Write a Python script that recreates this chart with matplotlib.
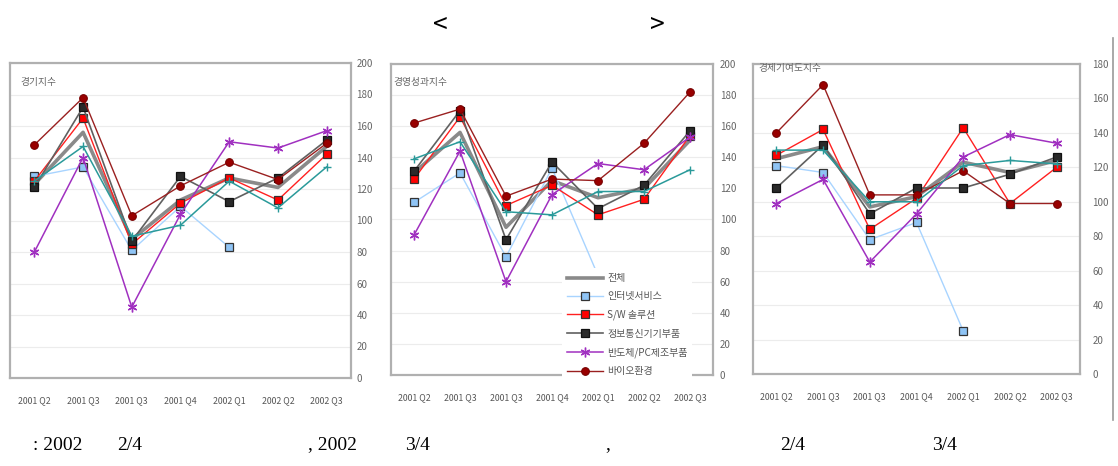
import matplotlib
matplotlib.use('Agg')
import matplotlib.pyplot as plt
import numpy as np
from matplotlib.lines import Line2D

plt.rcParams['font.family'] = ['Noto Sans CJK KR', 'DejaVu Sans']

# DATA

quarters = ['2001 Q2', '2001 Q3', '2001 Q3', '2001 Q4', '2002 Q1', '2002 Q2', '2002 Q3']
series_names = ['전체', '인터넷서비스', 'S/W 솔루션', '정보통신기기부품', '반도체/PC제조부품', '바이오환경', '기타']
nan = np.nan

# 경기지수
p1_total    = [123, 156, 88, 113, 127, 121, 147]
p1_internet = [128, 134, 81, 109, 83, nan, nan]
p1_sw       = [125, 165, 85, 111, 127, 113, 142]
p1_info     = [121, 172, 87, 128, 112, 127, 151]
p1_semi     = [80, 140, 45, 104, 150, 146, 157]
p1_bio      = [148, 178, 103, 122, 137, 126, 149]
p1_other    = [125, 147, 90, 97, 125, 108, 134]

# 경영성과지수
p2_total    = [130, 156, 95, 125, 114, 120, 151]
p2_internet = [111, 130, 76, 133, 64, nan, nan]
p2_sw       = [126, 166, 109, 122, 103, 113, 154]
p2_info     = [131, 170, 87, 137, 107, 122, 157]
p2_semi     = [90, 144, 60, 116, 136, 132, 153]
p2_bio      = [162, 171, 115, 126, 125, 149, 182]
p2_other    = [139, 150, 105, 103, 118, 118, 132]

# 경제기여도지수
p3_total    = [125, 132, 97, 103, 123, 117, 124]
p3_internet = [121, 117, 78, 88, 25, nan, nan]
p3_sw       = [127, 142, 84, 102, 143, 99, 120]
p3_info     = [108, 133, 93, 108, 108, 116, 126]
p3_semi     = [99, 113, 65, 93, 126, 139, 134]
p3_bio      = [140, 168, 104, 104, 118, 99, 99]
p3_other    = [130, 130, 100, 100, 121, 124, 122]

panel_titles = ['경기지수', '경영성과지수', '경제기여도지수']
panel_ymax = [200, 200, 180]

# STYLES

STYLES = [
    dict(color='#8a8a8a', lw=2.6, marker=None),
    dict(color='#a8d4ff', lw=1.0, marker='s', ms=6, mfc='#8fc4f5', mec='#333333', mew=0.9),
    dict(color='#ff2020', lw=1.0, marker='s', ms=6, mfc='#ff0000', mec='#333333', mew=0.9),
    dict(color='#606060', lw=1.2, marker='s', ms=6, mfc='#2a2a2a', mec='#111111', mew=0.9),
    dict(color='#a030c0', lw=1.1, marker=(6, 2, 0), ms=7, mec='#a030c0', mew=1.0),
    dict(color='#9a2020', lw=1.0, marker='o', ms=5.5, mfc='#990000', mec='#770000', mew=0.8),
    dict(color='#2a9a9a', lw=1.1, marker='+', ms=6, mec='#2a9a9a', mew=1.0),
]

fig = plt.figure(figsize=(11.18, 4.66), dpi=100)
W, H = 1118, 466

# axes boxes in pixels: left, top, right, bottom
boxes = [(10, 63, 351, 378), (391, 64, 713, 375), (753, 64, 1080, 374)]
ypads = [4, 5, 9]
title_pos = [(20, 82), (393, 82), (758, 68)]

data = [
    [p1_total, p1_internet, p1_sw, p1_info, p1_semi, p1_bio, p1_other],
    [p2_total, p2_internet, p2_sw, p2_info, p2_semi, p2_bio, p2_other],
    [p3_total, p3_internet, p3_sw, p3_info, p3_semi, p3_bio, p3_other],
]
draw_order = [0, 6, 4, 1, 3, 2, 5]

x = np.arange(len(quarters))

for i, (l, t, r, b) in enumerate(boxes):
    ax = fig.add_axes([l / W, (H - b) / H, (r - l) / W, (b - t) / H])
    for k in draw_order:
        st = dict(STYLES[k])
        lbl = series_names[k] if k < 6 else '_nolegend_'
        ax.plot(x, data[i][k], label=lbl, zorder=3 + k * 0.1, clip_on=False, **st)

    ymax = panel_ymax[i]
    ax.set_xlim(-0.5, len(quarters) - 0.5)
    ax.set_ylim(0, ymax)
    ax.set_yticks(np.arange(0, ymax + 1, 20))
    ax.set_xticks(x)
    ax.set_xticklabels(quarters)
    ax.yaxis.tick_right()
    ax.tick_params(axis='y', length=0, pad=ypads[i], labelsize=7, labelcolor='#666666')
    ax.tick_params(axis='x', length=0, pad=13, labelsize=6.3, labelcolor='#555555')
    ax.grid(axis='y', color='#ececec', lw=0.8)
    ax.set_axisbelow(True)
    for sp in ax.spines.values():
        sp.set_color('#b0b0b0')
        sp.set_linewidth(1.6)

    tx, ty = title_pos[i]
    fig.text(tx / W, 1 - ty / H, panel_titles[i], fontsize=7, color='#666666',
             ha='left', va='center')

    if i == 1:
        handles, labels = ax.get_legend_handles_labels()
        order = [labels.index(n) for n in series_names[:6]]
        leg = ax.legend([handles[j] for j in order], [labels[j] for j in order],
                        loc='lower left', bbox_to_anchor=(562 / W, (H - 381) / H),
                        bbox_transform=fig.transFigure, fontsize=7.2, frameon=True,
                        facecolor='white', edgecolor='none', framealpha=1,
                        handlelength=3.6, handletextpad=0.4, labelspacing=0.84,
                        borderpad=0.5, borderaxespad=0, fancybox=False)
        for txt in leg.get_texts():
            txt.set_color('#555555')
        leg.set_zorder(10)

# header and footnote
fig.text(440 / W, 1 - 25 / H, '<', fontsize=19, ha='center', va='center')
fig.text(657 / W, 1 - 25 / H, '>', fontsize=19, ha='center', va='center')

foot = [(33, ': 2002'), (117, '2/4'), (308, ', 2002'), (405, '3/4'), (605, ','), (780, '2/4'), (932, '3/4')]
for fx, s in foot:
    fig.text(fx / W, 1 - 445 / H, s, fontsize=14, family='Liberation Serif', ha='left', va='center')

fig.add_artist(Line2D([1113 / W, 1113 / W], [1 - 38 / H, 1 - 420 / H], color='#999999', lw=1.2))

fig.savefig('out.png', dpi=100)
